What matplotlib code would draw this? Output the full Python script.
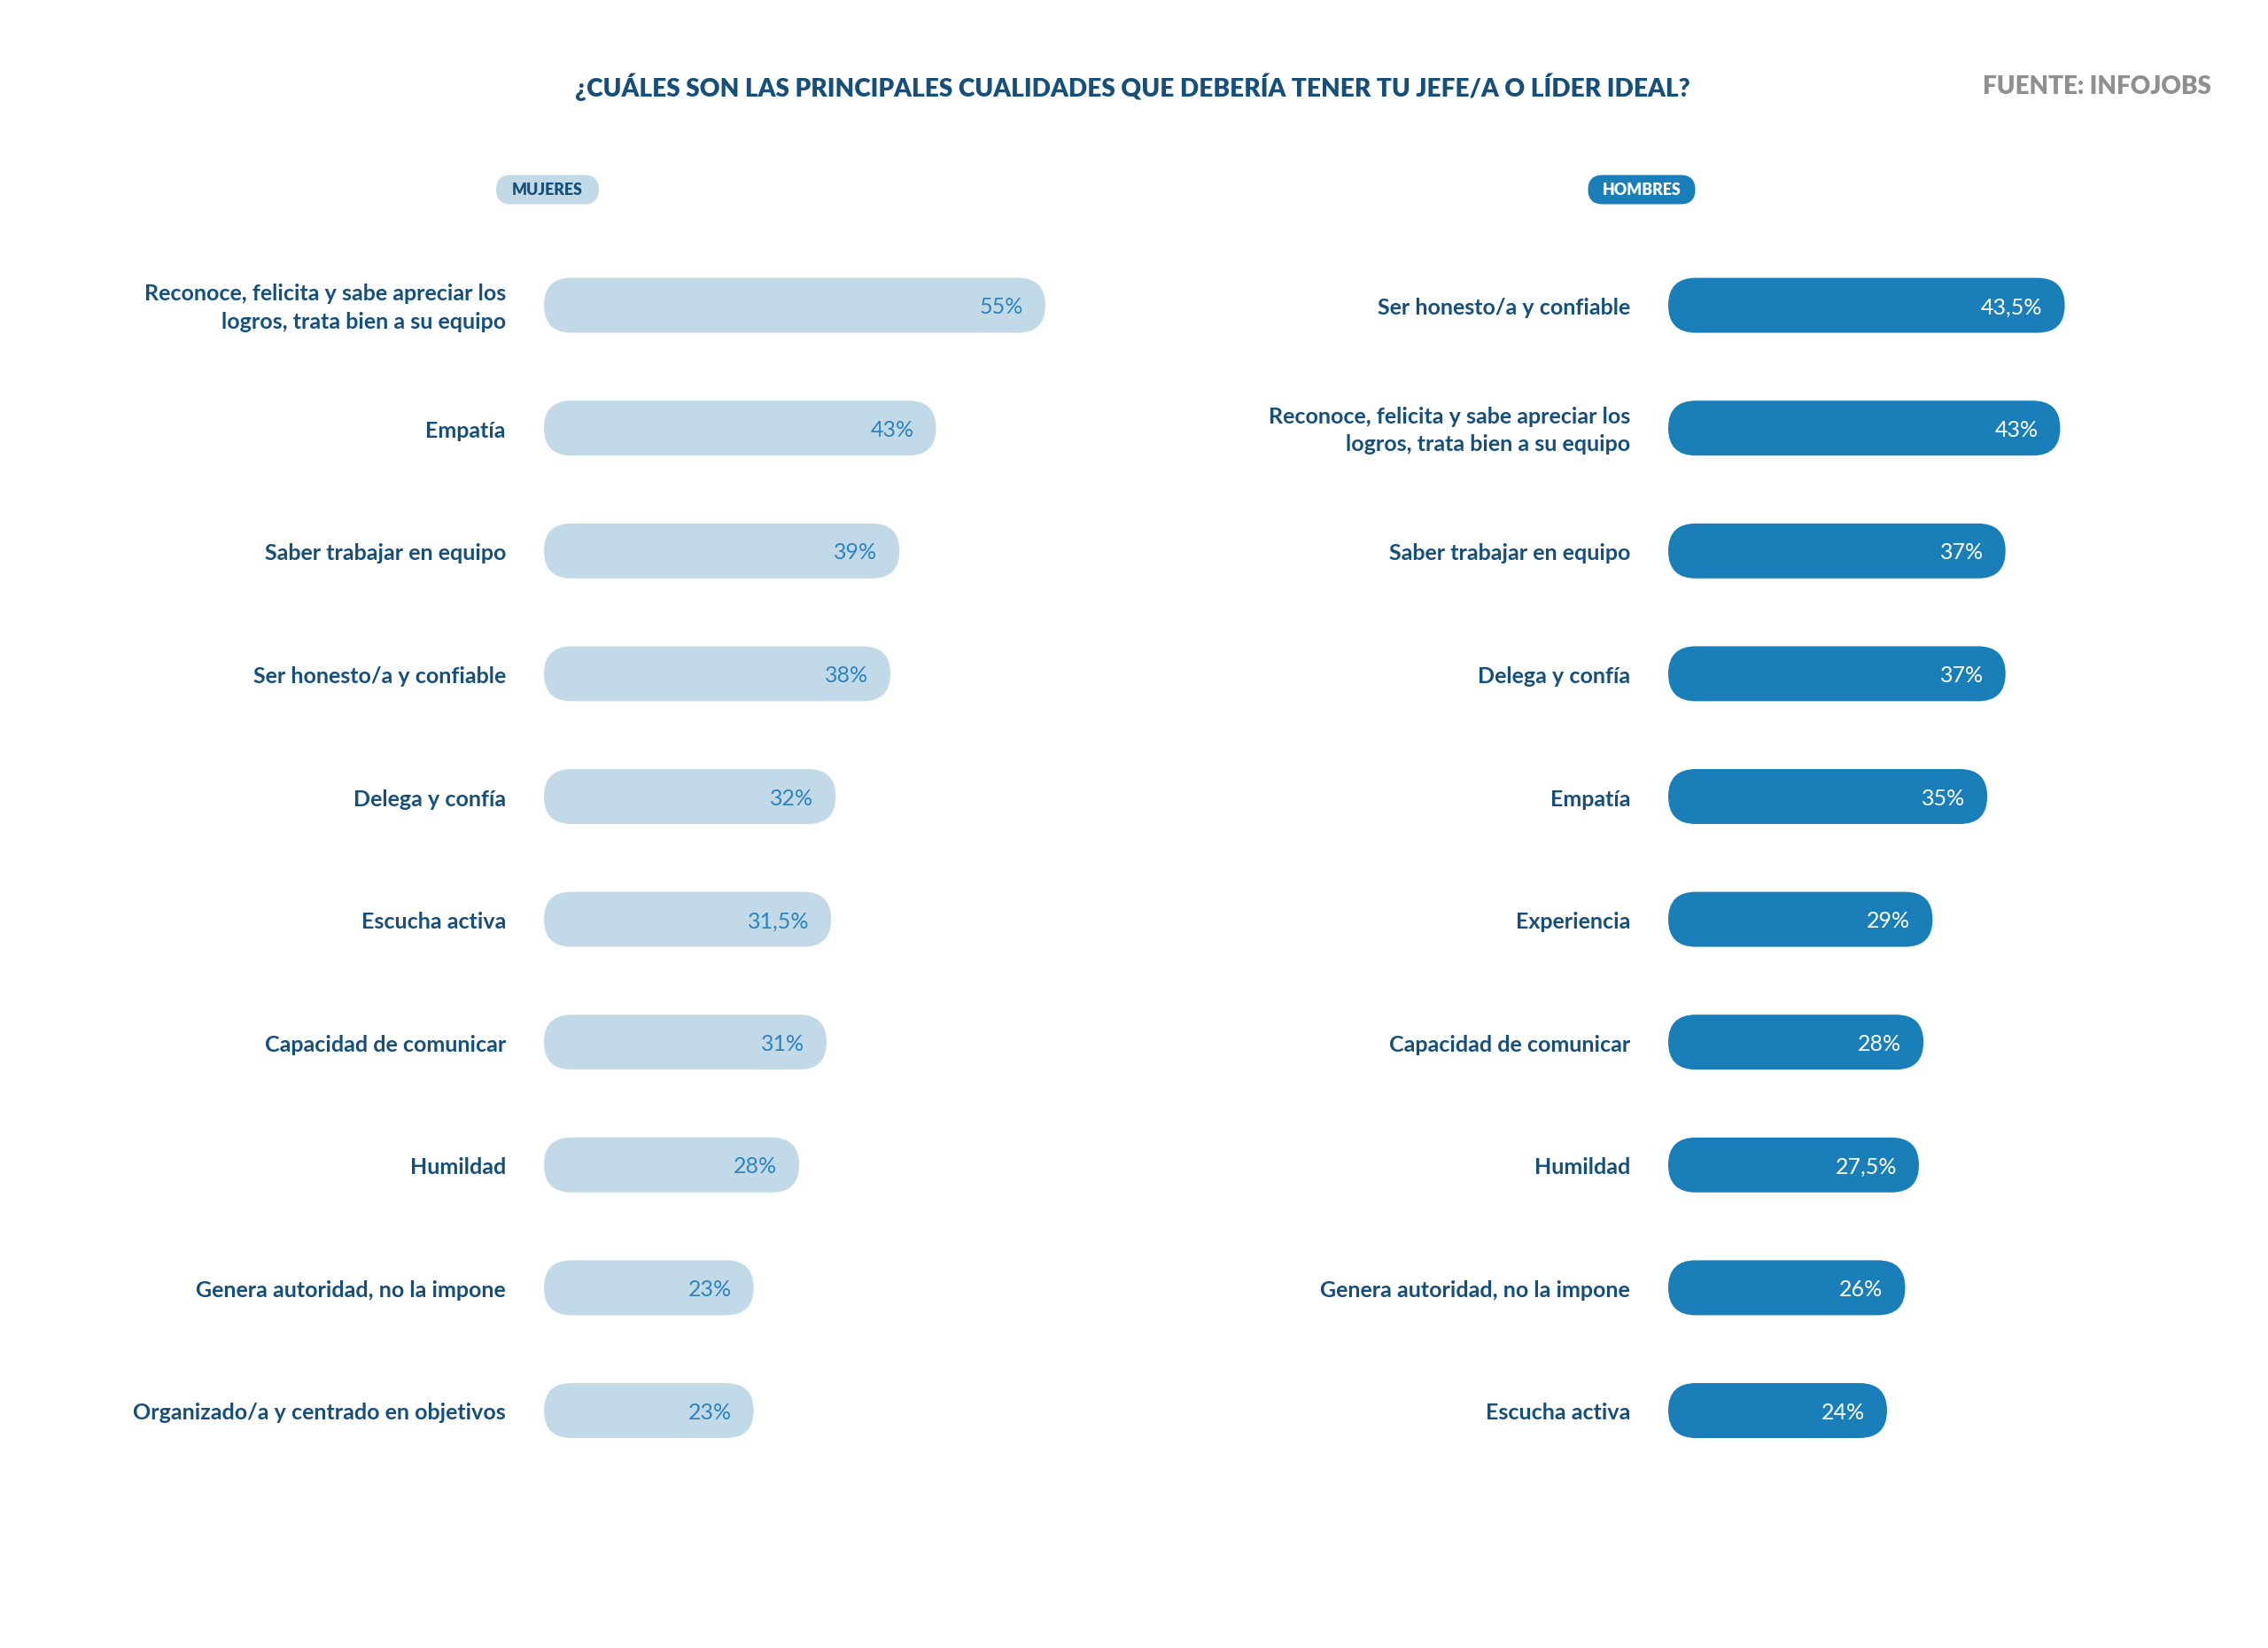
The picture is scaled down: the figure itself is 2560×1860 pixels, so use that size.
import matplotlib.pyplot as plt
from matplotlib.patches import FancyBboxPatch

plt.rcParams["font.family"] = ["Lato", "DejaVu Sans"]

TITLE = "¿CUÁLES SON LAS PRINCIPALES CUALIDADES QUE DEBERÍA TENER TU JEFE/A O LÍDER IDEAL?"
SOURCE = "FUENTE: INFOJOBS"

women_labels = [
    "Reconoce, felicita y sabe apreciar los\nlogros, trata bien a su equipo",
    "Empatía",
    "Saber trabajar en equipo",
    "Ser honesto/a y confiable",
    "Delega y confía",
    "Escucha activa",
    "Capacidad de comunicar",
    "Humildad",
    "Genera autoridad, no la impone",
    "Organizado/a y centrado en objetivos",
]
women_values = [55, 43, 39, 38, 32, 31.5, 31, 28, 23, 23]

men_labels = [
    "Ser honesto/a y confiable",
    "Reconoce, felicita y sabe apreciar los\nlogros, trata bien a su equipo",
    "Saber trabajar en equipo",
    "Delega y confía",
    "Empatía",
    "Experiencia",
    "Capacidad de comunicar",
    "Humildad",
    "Genera autoridad, no la impone",
    "Escucha activa",
]
men_values = [43.5, 43, 37, 37, 35, 29, 28, 27.5, 26, 24]

NAVY = "#164f79"
LIGHT = "#c2d9e8"
BLUE = "#1a7fb8"
VAL_LIGHT = "#2d84c1"
GREY = "#8f8f8f"

W, H = 2560, 1860
PX_PER_PCT = 10.29   # bar length per percentage point
ROW_TOP = 344.6      # centre of first row, px from top
ROW_STEP = 138.6     # row spacing, px
BAR_H = 62           # bar thickness, px
XMAX = 60

fig = plt.figure(figsize=(12.8, 9.3), dpi=200)
fig.patch.set_facecolor("white")

# pixel-space overlay for the header pills
deco = fig.add_axes([0, 0, 1, 1])
deco.set_xlim(0, W)
deco.set_ylim(H, 0)
deco.axis("off")


def pill(cx, cy, w, h, text, fc, tc):
    deco.add_patch(FancyBboxPatch((cx - w / 2, cy - h / 2), w, h,
                                  boxstyle=f"round,pad=0,rounding_size={h / 2}",
                                  fc=fc, ec="none"))
    deco.text(cx, cy + 1, text, ha="center", va="center", color=tc,
              fontsize=6.4, fontweight="heavy")


def fmt(v):
    return f"{v:g}".replace(".", ",") + "%"


def panel(x0, labels, values, bar_color, val_color):
    n = len(values)
    top = ROW_TOP - ROW_STEP / 2
    height = ROW_STEP * n
    ax = fig.add_axes([x0 / W, 1 - (top + height) / H, XMAX * PX_PER_PCT / W, height / H])
    ax.set_xlim(0, XMAX)
    ax.set_ylim(n - 0.5, -0.5)
    ax.axis("off")
    bh = BAR_H / ROW_STEP
    aspect = PX_PER_PCT / ROW_STEP
    r = BAR_H / 2 / PX_PER_PCT
    for i, (lab, v) in enumerate(zip(labels, values)):
        ax.add_patch(FancyBboxPatch((0, i - bh / 2), v, bh,
                                    boxstyle=f"round,pad=0,rounding_size={r}",
                                    mutation_aspect=aspect, fc=bar_color, ec="none"))
        ax.annotate(fmt(v), (v, i), xytext=(-25, -2), textcoords="offset pixels",
                    ha="right", va="center", color=val_color, fontsize=9,
                    fontweight="normal")
        ax.annotate(lab, (0, i), xytext=(-43, -3), textcoords="offset pixels",
                    ha="right", va="center", multialignment="right", linespacing=1.45,
                    color=NAVY, fontsize=9, fontweight="bold")
    return ax


panel(614, women_labels, women_values, LIGHT, VAL_LIGHT)
panel(1883, men_labels, men_values, BLUE, "white")

pill(618, 214, 116, 33, "MUJERES", LIGHT, NAVY)
pill(1853, 214, 121, 33, "HOMBRES", BLUE, "white")

fig.text(1278 / W, 1 - 98 / H, TITLE, ha="center", va="center",
         color=NAVY, fontsize=10.1, fontweight="heavy")
fig.text(2496 / W, 1 - 98 / H, SOURCE, ha="right", va="center",
         color=GREY, fontsize=10, fontweight="heavy")

fig.savefig("out.png", dpi=200, facecolor="white")
